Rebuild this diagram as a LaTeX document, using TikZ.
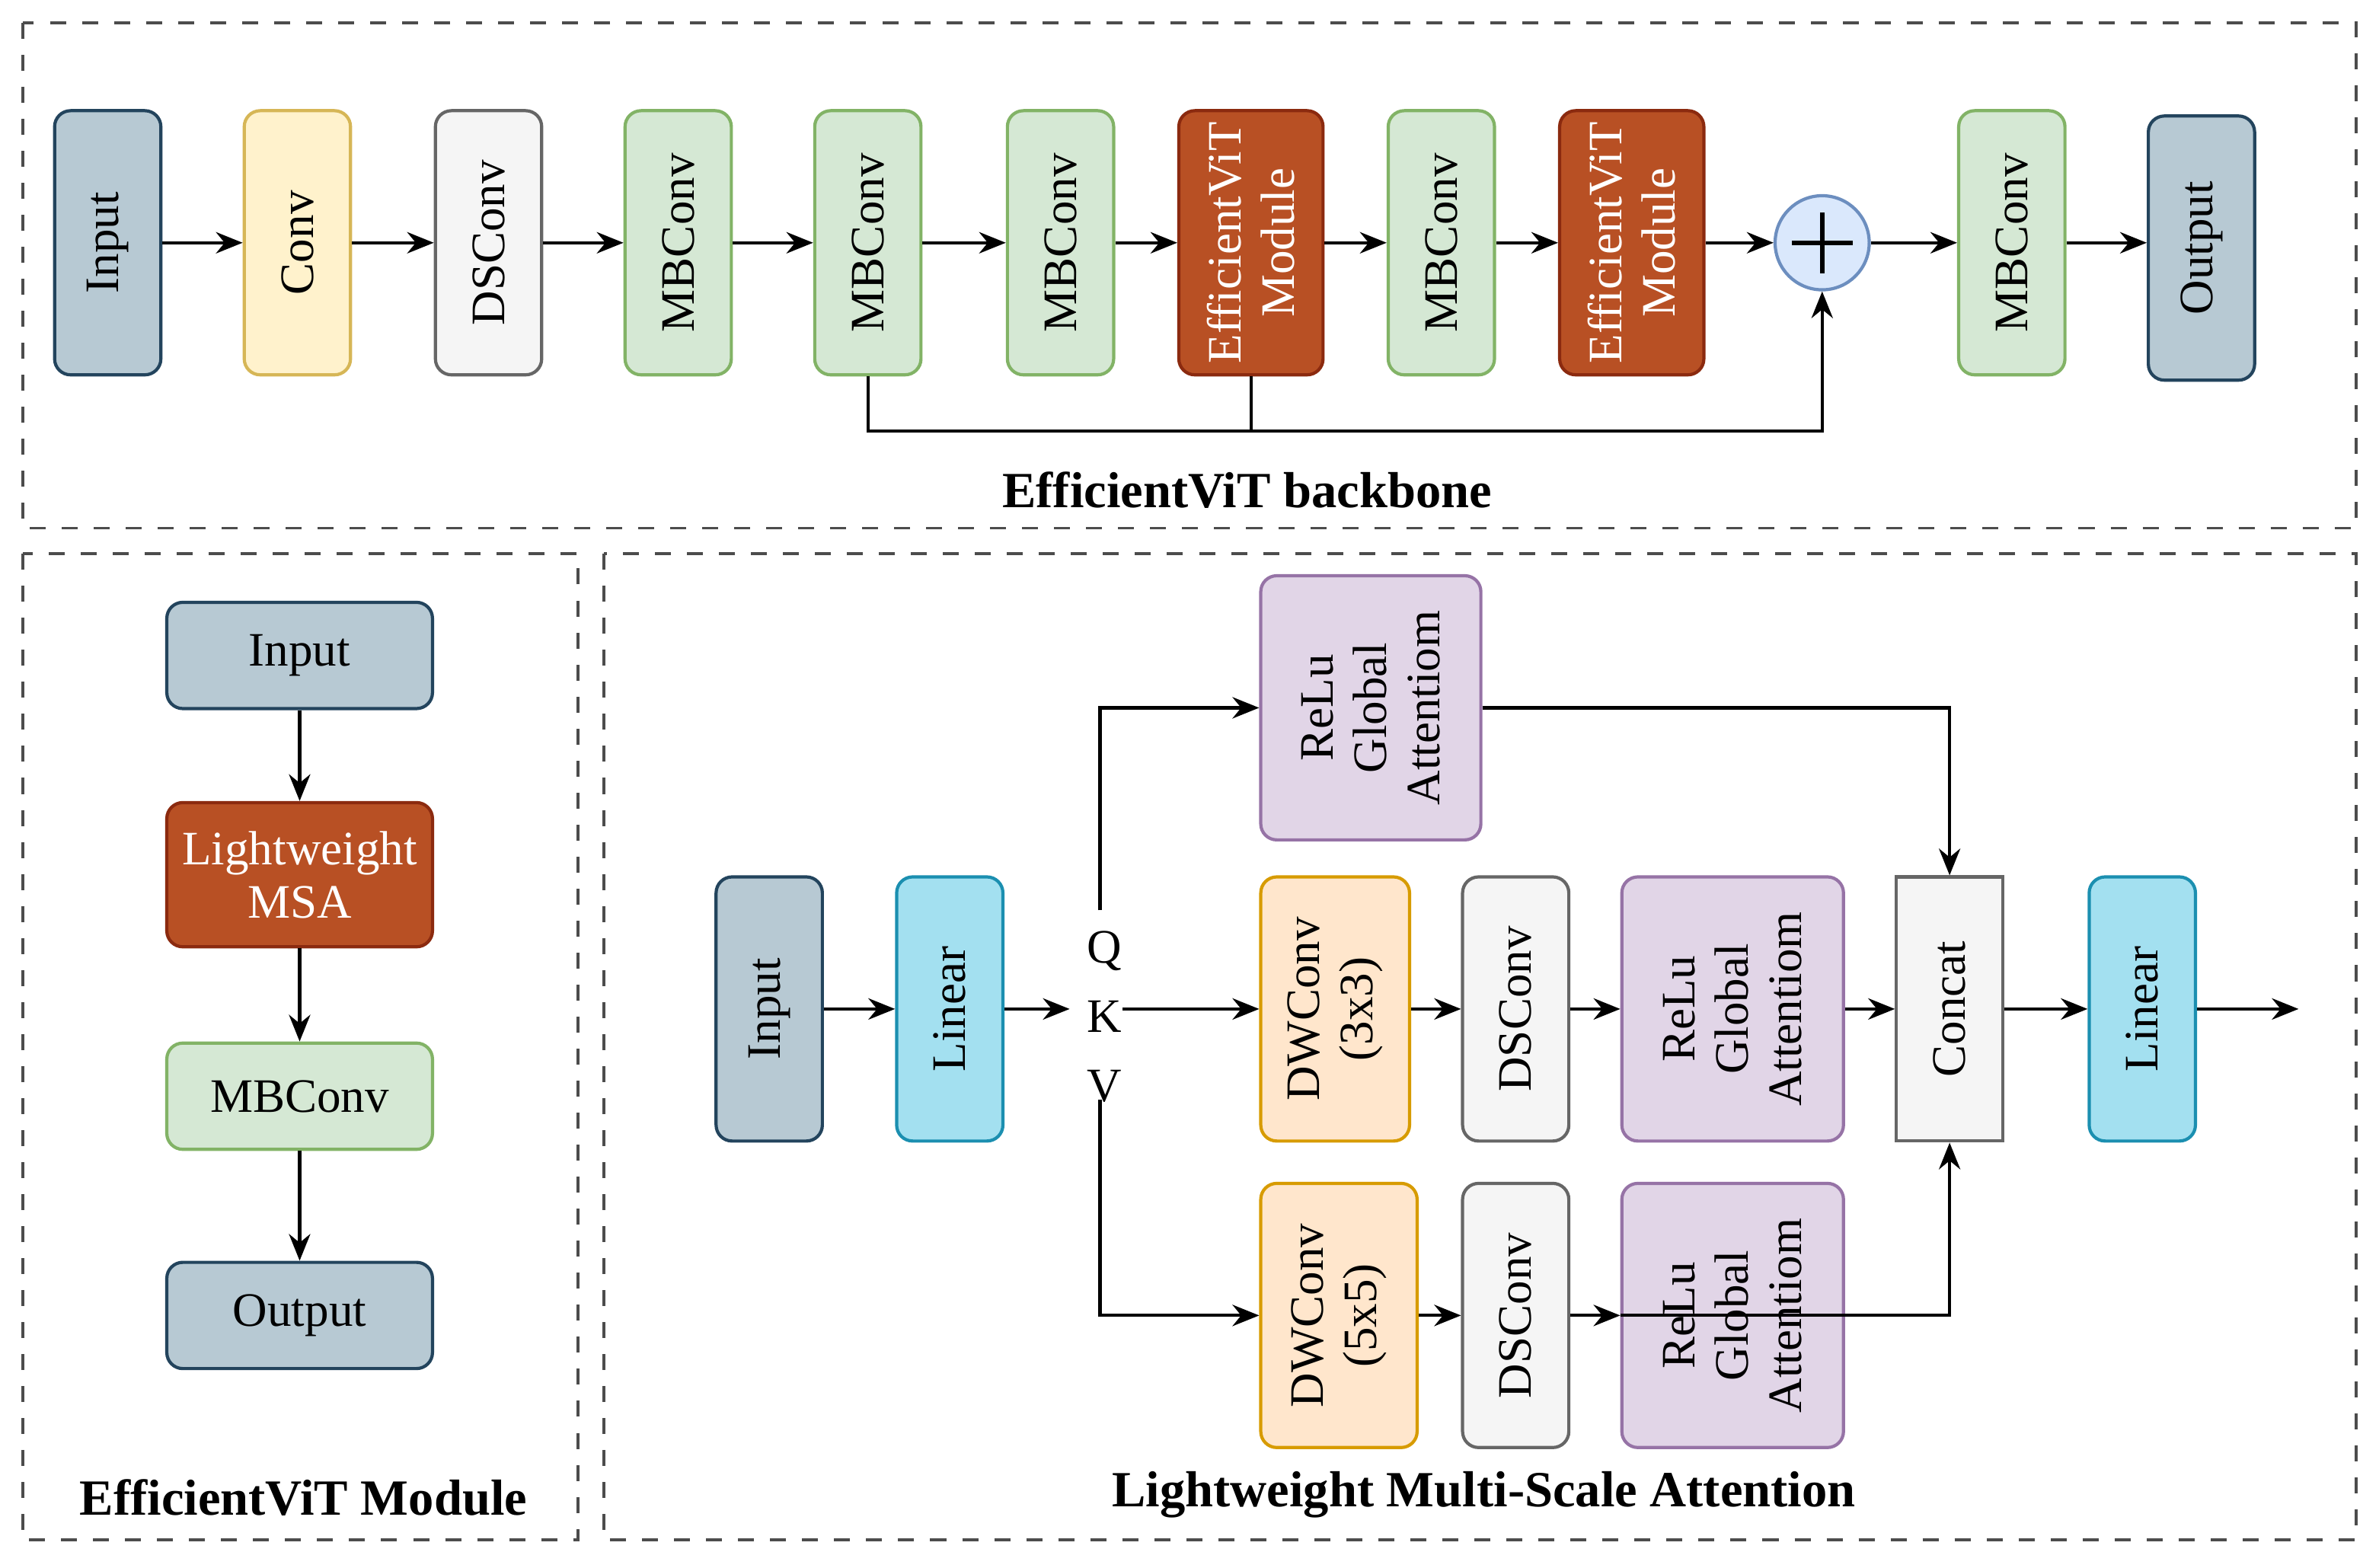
\documentclass[tikz,border=0pt]{standalone}
\usepackage{fontspec}
\setmainfont{Liberation Serif}
\usetikzlibrary{arrows.meta}
\definecolor{gbF}{HTML}{B7C9D3}\definecolor{gbD}{HTML}{23445D}
\definecolor{yeF}{HTML}{FFF2CC}\definecolor{yeD}{HTML}{D6B656}
\definecolor{grF}{HTML}{F5F5F5}\definecolor{grD}{HTML}{666666}
\definecolor{gnF}{HTML}{D5E8D4}\definecolor{gnD}{HTML}{82B366}
\definecolor{rdF}{HTML}{B85024}\definecolor{rdD}{HTML}{8B2A0F}
\definecolor{blF}{HTML}{DAE8FC}\definecolor{blD}{HTML}{6C8EBF}
\definecolor{cyF}{HTML}{A3E0F0}\definecolor{cyD}{HTML}{1B8FB0}
\definecolor{puF}{HTML}{E1D5E7}\definecolor{puD}{HTML}{9673A6}
\definecolor{orF}{HTML}{FFE6CC}\definecolor{orD}{HTML}{D79B00}
\tikzset{
 b/.style={draw,rounded corners=3pt,line width=0.6pt,font=\fontsize{9}{10}\selectfont,align=center,inner sep=1pt},
 v/.style={b,rotate=90,minimum width=1.74cm,minimum height=0.70cm},
 h/.style={b,minimum width=1.75cm,minimum height=0.70cm},
 gb/.style={fill=gbF,draw=gbD}, ye/.style={fill=yeF,draw=yeD}, gr/.style={fill=grF,draw=grD},
 gn/.style={fill=gnF,draw=gnD}, rd/.style={fill=rdF,draw=rdD,text=white},
 cy/.style={fill=cyF,draw=cyD}, pu/.style={fill=puF,draw=puD}, or/.style={fill=orF,draw=orD},
 a/.style={-{Stealth[length=5pt,width=4pt]},line width=0.6pt},
 l/.style={line width=0.6pt},
 panel/.style={dashed,draw=black!70,line width=0.5pt},
 ttl/.style={font=\fontsize{9.5}{11}\selectfont\bfseries}
}
\begin{document}
\begin{tikzpicture}[x=0.01cm,y=-0.01cm]
\useasboundingbox (0,0) rectangle (1568,1033);
\draw[panel] (15,15) rectangle (1553,348);
\draw[panel] (15,365) rectangle (381,1015);
\draw[panel] (398,365) rectangle (1553,1015);
% top
\node[v,gb] (t1) at (71,160) {Input};
\node[v,ye] (t2) at (196,160) {Conv};
\node[v,gr] (t3) at (322,160) {DSConv};
\node[v,gn] (t4) at (447,160) {MBConv};
\node[v,gn] (t5) at (572,160) {MBConv};
\node[v,gn] (t6) at (699,160) {MBConv};
\node[v,rd,minimum height=0.95cm] (t7) at (824.5,160) {EfficientViT\\Module};
\node[v,gn] (t8) at (950,160) {MBConv};
\node[v,rd,minimum height=0.95cm] (t9) at (1075.5,160) {EfficientViT\\Module};
\node[circle,draw=blD,fill=blF,line width=0.6pt,minimum size=0.62cm,inner sep=0] (pl) at (1201,160) {};
\draw[line width=0.9pt] ([xshift=-0.2cm]pl.center) -- ([xshift=0.2cm]pl.center) ([yshift=-0.2cm]pl.center) -- ([yshift=0.2cm]pl.center);
\node[v,gn] (t10) at (1326,160) {MBConv};
\node[v,gb] (t11) at (1451,163.5) {Output};
\foreach \p/\q in {t1/t2,t2/t3,t3/t4,t4/t5,t5/t6,t6/t7,t7/t8,t8/t9,t9/pl,pl/t10} \draw[a] (\p) -- (\q);
\draw[a] (t10.south) -- (t11.north|-t10.south);
\coordinate (s1) at (572,284); \coordinate (s2) at (1201,284);
\draw[a] (t5.west) -- (s1) -- (s2) -- (pl.south);
\draw[l] (t7.west) -- (t7.west|-s1);
\node[ttl] (tt1) at (822,323) {EfficientViT backbone};
% bottom left
\node[h,gb] (m1) at (197.5,432) {Input};
\node[h,rd,minimum height=0.95cm] (m2) at (197.5,576.5) {Lightweight\\MSA};
\node[h,gn] (m3) at (197.5,722.5) {MBConv};
\node[h,gb] (m4) at (197.5,867) {Output};
\draw[a] (m1) -- (m2); \draw[a] (m2) -- (m3); \draw[a] (m3) -- (m4);
\node[ttl] (tt2) at (200,987) {EfficientViT Module};
% bottom right
\node[v,gb] (r1) at (507,665) {Input};
\node[v,cy] (r2) at (626,665) {Linear};
\node[font=\fontsize{9}{10}\selectfont,align=center,inner sep=0pt] (q) at (728,670) {Q\\[3pt]K\\[3pt]V};
\node[v,pu,minimum height=1.45cm] (g1) at (903.5,466.5) {ReLu\\Global\\Attentiom};
\node[v,or,minimum height=0.98cm] (d1) at (880,665) {DWConv\\(3x3)};
\node[v,gr] (e1) at (999,665) {DSConv};
\node[v,pu,minimum height=1.46cm] (g2) at (1142,665) {ReLu\\Global\\Attentiom};
\node[v,gr,rounded corners=0pt] (cc) at (1285,665) {Concat};
\node[v,cy] (r3) at (1412,665) {Linear};
\coordinate (out) at (1515,665);
\node[v,or,minimum height=1.03cm] (d2) at (882.5,867) {DWConv\\(5x5)};
\node[v,gr] (e2) at (999,867) {DSConv};
\node[v,pu,minimum height=1.46cm] (g3) at (1142,867) {ReLu\\Global\\Attentiom};
\draw[a] (r1) -- (r2);
\draw[a] (r2) -- (705,665);
\draw[a] (740,665) -- (d1);
\draw[a] (d1) -- (e1); \draw[a] (e1) -- (g2); \draw[a] (g2) -- (cc); \draw[a] (cc) -- (r3); \draw[a] (r3) -- (out);
\draw[a] (725,600) |- (g1.north);
\draw[a] (725,725) |- (d2.north);
\draw[a] (d2) -- (e2); \draw[a] (e2) -- (g3);
\draw[a] (g1.south) -| (cc.east);
\draw[a] (g3.north) -| (cc.west);
\node[ttl] (tt3) at (978,985) {Lightweight Multi-Scale Attention};
\end{tikzpicture}
\end{document}
